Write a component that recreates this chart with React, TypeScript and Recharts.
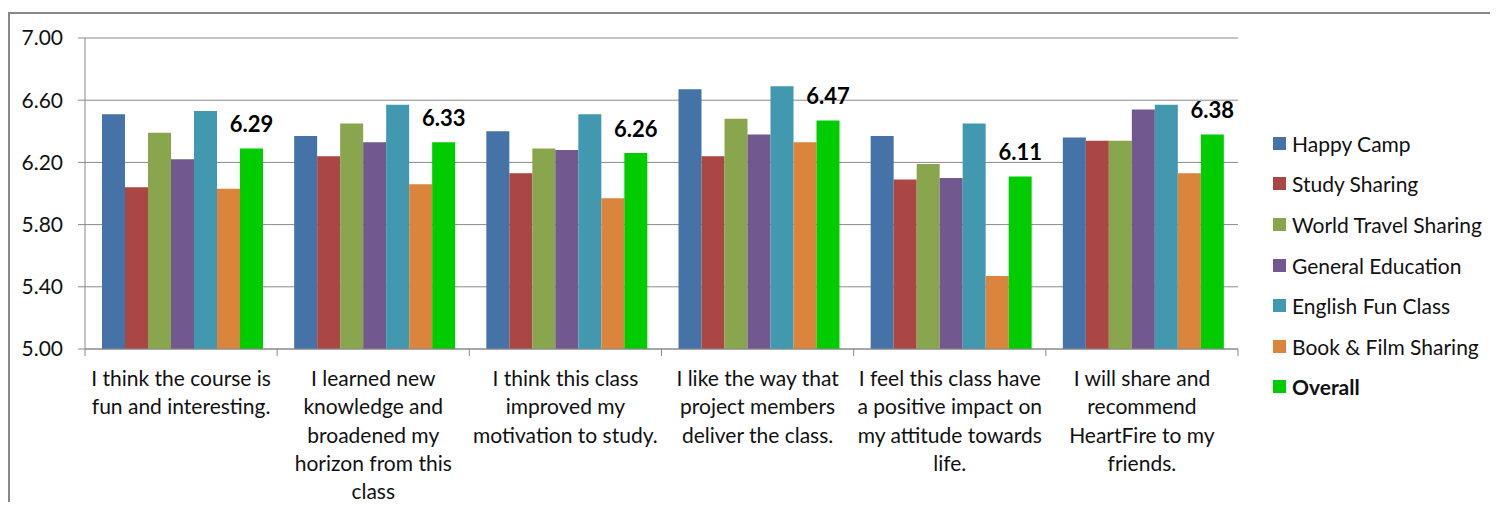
import React from 'react';
import { BarChart, Bar, XAxis, YAxis, CartesianGrid, Legend, LabelList } from 'recharts';

const categories = [
  'I think the course is\nfun and interesting.',
  'I learned new\nknowledge and\nbroadened my\nhorizon from this\nclass',
  'I think this class\nimproved my\nmotivation to study.',
  'I like the way that\nproject members\ndeliver the class.',
  'I feel this class have\na positive impact on\nmy attitude towards\nlife.',
  'I will share and\nrecommend\nHeartFire to my\nfriends.',
];

const seriesNames = [
  'Happy Camp',
  'Study Sharing',
  'World Travel Sharing',
  'General Education',
  'English Fun Class',
  'Book & Film Sharing',
  'Overall',
];
const seriesColors = ['#4572A7', '#AA4643', '#89A54E', '#71588F', '#4198AF', '#DB843D', '#00CC00'];

const happyCamp = [6.51, 6.37, 6.40, 6.67, 6.37, 6.36];
const studySharing = [6.04, 6.24, 6.13, 6.24, 6.09, 6.34];
const worldTravelSharing = [6.39, 6.45, 6.29, 6.48, 6.19, 6.34];
const generalEducation = [6.22, 6.33, 6.28, 6.38, 6.10, 6.54];
const englishFunClass = [6.53, 6.57, 6.51, 6.69, 6.45, 6.57];
const bookFilmSharing = [6.03, 6.06, 5.97, 6.33, 5.47, 6.13];
const overall = [6.29, 6.33, 6.26, 6.47, 6.11, 6.38];

const yTicks = [5.0, 5.4, 5.8, 6.2, 6.6, 7.0];

const seriesValues = [
  happyCamp,
  studySharing,
  worldTravelSharing,
  generalEducation,
  englishFunClass,
  bookFilmSharing,
  overall,
];

const data = categories.map((c, i) => {
  const row: Record<string, any> = { category: c };
  seriesNames.forEach((s, k) => {
    row[s] = seriesValues[k][i];
  });
  return row;
});

const FONT = 'Lato, "Open Sans", sans-serif';
const W = 1490;
const H = 494;
const PLOT_LEFT = 77;
const PLOT_RIGHT = 1230;
const BAND = (PLOT_RIGHT - PLOT_LEFT) / categories.length;
const GRID = '#8a8a8a';
const LEGEND_W = 225;

const XTick = (props: any) => {
  const { x, y, payload, index } = props;
  const lines = String(payload.value).split('\n');
  const left = x - BAND / 2;
  const right = x + BAND / 2;
  return (
    <g>
      <line x1={left} y1={y} x2={left} y2={y + 7} stroke={GRID} strokeWidth={1} />
      {index === categories.length - 1 && (
        <line x1={right} y1={y} x2={right} y2={y + 7} stroke={GRID} strokeWidth={1} />
      )}
      <text x={x} y={y + 37} textAnchor="middle" fontFamily={FONT} fontSize={21} fill="#111">
        {lines.map((l, i) => (
          <tspan key={i} x={x} dy={i === 0 ? 0 : 28.3}>
            {l}
          </tspan>
        ))}
      </text>
    </g>
  );
};

const LegendContent = () => (
  <div style={{ fontFamily: FONT, fontSize: 21, color: '#111', width: LEGEND_W }}>
    {seriesNames.map((s, i) => (
      <div key={s} style={{ height: 40.6, display: 'flex', alignItems: 'center' }}>
        <span
          style={{
            display: 'inline-block',
            flexShrink: 0,
            width: 13,
            height: 13,
            background: seriesColors[i],
            marginRight: 6,
          }}
        />
        <span style={{ fontWeight: s === 'Overall' ? 700 : 400, whiteSpace: 'nowrap' }}>{s}</span>
      </div>
    ))}
  </div>
);

const OverallLabel = (props: any) => {
  const { x, y, width, value } = props;
  return (
    <text
      x={x + width / 2}
      y={y - 16}
      textAnchor="middle"
      fontFamily={FONT}
      fontSize={22}
      fontWeight={700}
      fill="#000"
    >
      {Number(value).toFixed(2)}
    </text>
  );
};

export default function App() {
  return (
    <div style={{ position: 'relative', width: W, height: H }}>
      <div
        style={{
          position: 'absolute',
          left: 0,
          top: 4,
          width: W,
          height: H + 4,
          boxSizing: 'border-box',
          borderLeft: '2px solid #888',
          borderTop: '2px solid #888',
        }}
      />
      <div style={{ position: 'absolute', left: 0, top: 0 }}>
        <BarChart
          width={W}
          height={H}
          data={data}
          margin={{ top: 30, right: W - PLOT_RIGHT - LEGEND_W, bottom: 13, left: 0 }}
          barCategoryGap={17}
          barGap={0}
        >
          <CartesianGrid vertical={false} stroke={GRID} strokeWidth={1} />
          <XAxis
            dataKey="category"
            height={140}
            stroke={GRID}
            tickLine={false}
            tickSize={0}
            tickMargin={0}
            interval={0}
            tick={<XTick />}
          />
          <YAxis
            width={PLOT_LEFT}
            domain={[5, 7]}
            ticks={yTicks}
            interval={0}
            stroke={GRID}
            tickSize={7}
            tickMargin={15}
            tickFormatter={(v: number) => v.toFixed(2)}
            tick={{ fontFamily: FONT, fontSize: 21, fill: '#111' }}
          />
          <Legend
            layout="vertical"
            align="right"
            verticalAlign="top"
            content={<LegendContent />}
            wrapperStyle={{ left: 1265, top: 115, width: LEGEND_W }}
          />
          {seriesNames.map((s, i) => (
            <Bar key={s} dataKey={s} fill={seriesColors[i]} isAnimationActive={false}>
              {s === 'Overall' && <LabelList dataKey={s} content={<OverallLabel />} />}
            </Bar>
          ))}
        </BarChart>
      </div>
    </div>
  );
}
